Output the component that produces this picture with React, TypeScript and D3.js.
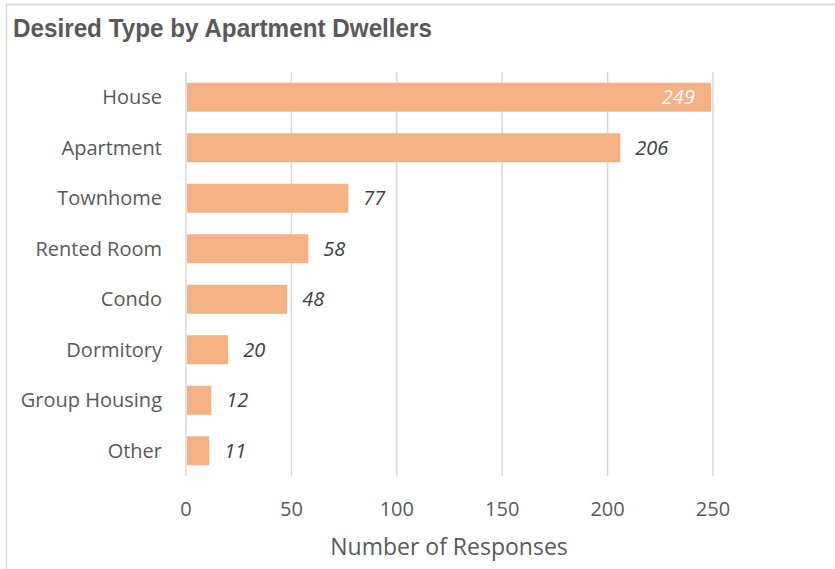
import React from "react";
import * as d3 from "d3";

const categories = ["House", "Apartment", "Townhome", "Rented Room", "Condo", "Dormitory", "Group Housing", "Other"];
const values = [249, 206, 77, 58, 48, 20, 12, 11];
const xTicks = [0, 50, 100, 150, 200, 250];
const title = "Desired Type by Apartment Dwellers";
const xTitle = "Number of Responses";

const W = 835, H = 569;
const FONT = "'Open Sans', sans-serif";

export default function App() {
  const x = d3.scaleLinear().domain([0, 250]).range([186, 713]);
  const y = d3.scaleBand<string>().domain(categories).range([72, 476]).paddingInner(0.426).paddingOuter(0.213);
  return (
    <svg width={W} height={H} style={{ position: "absolute", left: 0, top: 0 }}>
      <rect x={0} y={0} width={W} height={H} fill="#fff" />
      <line x1={6} x2={W} y1={4.5} y2={4.5} stroke="#d9d9d9" strokeWidth={1.5} />
      <line x1={6.5} x2={6.5} y1={4} y2={H} stroke="#d9d9d9" strokeWidth={1.5} />
      <text x={13} y={37} fontFamily="'Liberation Sans', Arial, sans-serif" fontWeight="bold" fontSize={26} textLength={419} lengthAdjust="spacingAndGlyphs" fill="#595959">{title}</text>
      {xTicks.map((t) => (
        <line key={"g" + t} x1={x(t)} x2={x(t)} y1={72} y2={476} stroke="#d9d9d9" strokeWidth={1.5} />
      ))}
      {categories.map((c, i) => (
        <g key={c}>
          <rect x={x(0) + 1} y={y(c)!} width={x(values[i]) - x(0) - 1} height={y.bandwidth()} fill="#f4b183" />
          <text x={162} y={y(c)! + y.bandwidth() / 2} dy="0.35em" textAnchor="end" fontFamily={FONT} fontSize={20} fill="#595959">{c}</text>
          {i === 0 ? (
            <text x={x(values[i]) - 16} y={y(c)! + y.bandwidth() / 2} dy="0.35em" textAnchor="end" fontFamily={FONT} fontStyle="italic" fontSize={20} fill="#fff">{values[i]}</text>
          ) : (
            <text x={x(values[i]) + 15} y={y(c)! + y.bandwidth() / 2} dy="0.35em" textAnchor="start" fontFamily={FONT} fontStyle="italic" fontSize={20} fill="#404040">{values[i]}</text>
          )}
        </g>
      ))}
      {xTicks.map((t) => (
        <text key={"t" + t} x={x(t)} y={509} dy="0.35em" textAnchor="middle" fontFamily={FONT} fontSize={20} fill="#595959">{t}</text>
      ))}
      <text x={449} y={547} dy="0.35em" textAnchor="middle" fontFamily={FONT} fontSize={23} fill="#595959">{xTitle}</text>
    </svg>
  );
}
